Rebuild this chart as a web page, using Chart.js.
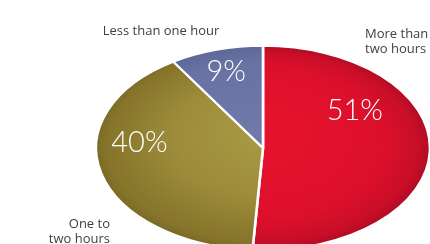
<!DOCTYPE html>
<html>
<head>
<meta charset="utf-8">
<script src="https://cdn.jsdelivr.net/npm/chart.js@4/dist/chart.umd.min.js"></script>
<style>
html,body{margin:0;padding:0;background:#fff;overflow:hidden;width:430px;height:244px;}
#wrap{position:absolute;left:0;top:0;width:430px;height:270px;}
</style>
</head>
<body>
<div id="wrap"><canvas id="c" width="430" height="270"></canvas></div>
<script>
// ---- data ----
const categories = [['More than', 'two hours'], ['One to', 'two hours'], ['Less than one hour']];
const shares = [51, 40, 9];
const shareLabels = ['51%', '40%', '9%'];

// ---- style / placement (not data) ----
const R = 102;                 // pie radius before stretching
const SX = 167 / 102;          // horizontal stretch of the pie into an ellipse
const pctPos = [[0.55, -0.37], [-0.74, -0.05], [-0.22, -0.75]];   // normalized (x,y) within ellipse for % text
const catPos = [
  {x: 365, y: 38, align: 'left'},
  {x: 110, y: 228, align: 'right'},
  {x: 161, y: 35, align: 'center'}
];
const textColor = '#3f3f3f';

function center(chart){
  const a = chart.chartArea;
  return {x: (a.left + a.right) / 2, y: (a.top + a.bottom) / 2};
}

function fillFor(ctx){
  const chart = ctx.chart;
  if (!chart.chartArea) return '#ccc';
  const c = center(chart);
  const g2 = chart.ctx;
  const i = ctx.dataIndex;
  if (i === 0) {
    const g = g2.createRadialGradient(c.x - 10, c.y - 20, 0, c.x, c.y, R);
    g.addColorStop(0, '#e8132e');
    g.addColorStop(0.75, '#dc102b');
    g.addColorStop(0.93, '#c90e28');
    g.addColorStop(1, '#b00c24');
    return g;
  } else if (i === 1) {
    const g = g2.createRadialGradient(c.x + 15, c.y - 25, 0, c.x, c.y, R * 1.05);
    g.addColorStop(0, '#ad9e48');
    g.addColorStop(0.55, '#9d8d3b');
    g.addColorStop(0.9, '#86752a');
    g.addColorStop(1, '#746322');
    return g;
  } else {
    const g = g2.createRadialGradient(c.x, c.y, 0, c.x, c.y, R);
    g.addColorStop(0, '#717bab');
    g.addColorStop(0.85, '#6872a3');
    g.addColorStop(1, '#5d6798');
    return g;
  }
}

const ellipsePlugin = {
  id: 'ellipse',
  beforeDatasetsDraw(chart){
    const c = center(chart);
    const ctx = chart.ctx;
    ctx.save();
    ctx.translate(c.x, c.y);
    ctx.scale(SX, 1);
    ctx.translate(-c.x, -c.y);
  },
  afterDatasetsDraw(chart){
    chart.ctx.restore();
  },
  afterDraw(chart){
    const ctx = chart.ctx;
    const meta = chart.getDatasetMeta(0);
    const arc = meta.data[0];
    const cx = arc.x, cy = arc.y, r = arc.outerRadius;
    ctx.save();
    // percentages
    ctx.fillStyle = '#ffffff';
    ctx.font = '300 29px Lato, "Open Sans", sans-serif';
    ctx.textAlign = 'center';
    ctx.textBaseline = 'middle';
    meta.data.forEach((el, i) => {
      const p = pctPos[i];
      ctx.fillText(shareLabels[i], cx + p[0] * r * SX, cy + p[1] * r);
    });
    // category labels
    ctx.fillStyle = textColor;
    ctx.font = '13px "Open Sans", Lato, sans-serif';
    ctx.textBaseline = 'alphabetic';
    categories.forEach((lines, i) => {
      const p = catPos[i];
      ctx.textAlign = p.align;
      lines.forEach((ln, k) => ctx.fillText(ln, p.x, p.y + k * 15));
    });
    ctx.restore();
  }
};

new Chart(document.getElementById('c'), {
  type: 'pie',
  data: {
    labels: categories.map(l => l.join(' ')),
    datasets: [{
      data: shares,
      backgroundColor: fillFor,
      borderColor: '#ffffff',
      borderWidth: 1.6,
      clip: false
    }]
  },
  options: {
    responsive: false,
    animation: false,
    devicePixelRatio: 1,
    radius: R,
    layout: {padding: {left: 161, right: 65, top: 46, bottom: 20}},
    plugins: {legend: {display: false}, tooltip: {enabled: false}, title: {display: false}}
  },
  plugins: [ellipsePlugin]
});
</script>
</body>
</html>
